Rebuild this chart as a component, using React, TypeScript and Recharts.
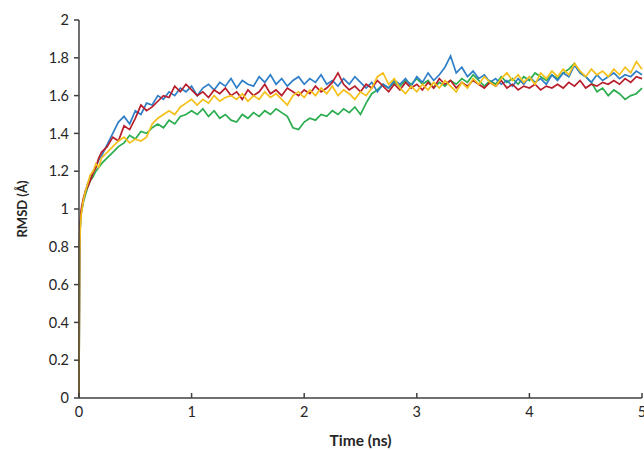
import { LineChart, Line, XAxis, YAxis, Label } from "recharts";

const time = [
  0, 0.005, 0.01, 0.02, 0.04, 0.06, 0.08, 0.1, 0.125, 0.15, 0.175, 0.2,
  0.25, 0.3, 0.35, 0.4, 0.45, 0.5, 0.55, 0.6, 0.65, 0.7, 0.75, 0.8, 0.85, 0.9, 0.95, 1.0,
  1.05, 1.1, 1.15, 1.2, 1.25, 1.3, 1.35, 1.4, 1.45, 1.5, 1.55, 1.6, 1.65, 1.7, 1.75, 1.8, 1.85, 1.9, 1.95, 2.0,
  2.05, 2.1, 2.15, 2.2, 2.25, 2.3, 2.35, 2.4, 2.45, 2.5, 2.55, 2.6, 2.65, 2.7, 2.75, 2.8, 2.85, 2.9, 2.95, 3.0,
  3.05, 3.1, 3.15, 3.2, 3.25, 3.3, 3.35, 3.4, 3.45, 3.5, 3.55, 3.6, 3.65, 3.7, 3.75, 3.8, 3.85, 3.9, 3.95, 4.0,
  4.05, 4.1, 4.15, 4.2, 4.25, 4.3, 4.35, 4.4, 4.45, 4.5, 4.55, 4.6, 4.65, 4.7, 4.75, 4.8, 4.85, 4.9, 4.95, 5.0,
];

const blue = [
  0, 0.8, 0.9, 0.98, 1.05, 1.1, 1.14, 1.16, 1.2, 1.22, 1.26, 1.28,
  1.34, 1.4, 1.46, 1.49, 1.45, 1.52, 1.5, 1.56, 1.55, 1.6, 1.58, 1.62, 1.6, 1.64, 1.62, 1.65,
  1.6, 1.64, 1.66, 1.63, 1.67, 1.65, 1.69, 1.64, 1.68, 1.66, 1.65, 1.7, 1.67, 1.71, 1.66, 1.69, 1.65, 1.68, 1.7, 1.66,
  1.69, 1.67, 1.71, 1.66, 1.68, 1.65, 1.69, 1.66, 1.7, 1.67, 1.64, 1.67, 1.62, 1.66, 1.64, 1.68, 1.66, 1.69, 1.65, 1.7,
  1.67, 1.72, 1.68, 1.71, 1.75, 1.81, 1.72, 1.75, 1.7, 1.73, 1.69, 1.71, 1.67, 1.69, 1.66, 1.68, 1.65, 1.69, 1.66, 1.7,
  1.67, 1.69, 1.66, 1.71, 1.68, 1.72, 1.7, 1.76, 1.72, 1.7, 1.67, 1.71, 1.68, 1.7, 1.72, 1.69, 1.71, 1.7, 1.73, 1.71,
];

const red = [
  0, 0.85, 0.93, 1.0, 1.06, 1.1, 1.12, 1.15, 1.19, 1.22, 1.27, 1.3,
  1.33, 1.38, 1.36, 1.44, 1.42, 1.48, 1.55, 1.52, 1.54, 1.57, 1.6, 1.59, 1.65, 1.62, 1.66, 1.63,
  1.6, 1.62, 1.59, 1.63, 1.61, 1.64, 1.6, 1.62, 1.58, 1.63, 1.6, 1.62, 1.66, 1.61, 1.63, 1.6, 1.64, 1.62, 1.6, 1.63,
  1.61, 1.65, 1.62, 1.64, 1.67, 1.72, 1.66, 1.63, 1.65, 1.62, 1.66, 1.64, 1.68, 1.65, 1.62, 1.66, 1.63, 1.67, 1.64, 1.66,
  1.63, 1.67, 1.64, 1.69, 1.66, 1.68, 1.64, 1.67, 1.65, 1.68, 1.66, 1.64, 1.67, 1.65, 1.68, 1.64, 1.66, 1.63, 1.65, 1.64,
  1.66, 1.63, 1.65, 1.64, 1.66, 1.64, 1.67, 1.65, 1.68, 1.64, 1.66, 1.65, 1.67, 1.66, 1.68, 1.66, 1.69, 1.67, 1.7, 1.69,
];

const yellow = [
  0, 0.75, 0.88, 0.97, 1.05, 1.1, 1.14, 1.18, 1.2, 1.24, 1.22, 1.27,
  1.3, 1.33, 1.36, 1.38, 1.35, 1.37, 1.36, 1.38, 1.45, 1.48, 1.5, 1.52, 1.5, 1.54, 1.56, 1.58,
  1.55, 1.58, 1.56, 1.6, 1.57, 1.59, 1.6, 1.58, 1.61, 1.57, 1.6, 1.58, 1.62, 1.59, 1.61, 1.58, 1.55, 1.6, 1.62, 1.59,
  1.63, 1.6, 1.64, 1.61, 1.65, 1.6, 1.63, 1.61, 1.58, 1.62, 1.6, 1.64, 1.7, 1.72, 1.66, 1.69, 1.64, 1.61, 1.65, 1.62,
  1.66, 1.63, 1.67, 1.64, 1.68, 1.65, 1.62, 1.67, 1.64, 1.69, 1.66, 1.7, 1.67, 1.65, 1.69, 1.72, 1.68, 1.71, 1.67, 1.7,
  1.66, 1.72, 1.69, 1.73, 1.7, 1.74, 1.71, 1.77, 1.73, 1.7, 1.74, 1.71, 1.73, 1.7, 1.74, 1.71, 1.75, 1.72, 1.78, 1.74,
];

const green = [
  0, 0.8, 0.9, 0.98, 1.04, 1.08, 1.12, 1.15, 1.17, 1.2, 1.22, 1.24,
  1.27, 1.3, 1.33, 1.35, 1.39, 1.37, 1.41, 1.4, 1.43, 1.45, 1.43, 1.47, 1.45, 1.49, 1.5, 1.52,
  1.5, 1.53, 1.49, 1.52, 1.48, 1.5, 1.47, 1.46, 1.5, 1.48, 1.51, 1.49, 1.52, 1.5, 1.53, 1.51, 1.49, 1.43, 1.42, 1.46,
  1.48, 1.47, 1.5, 1.49, 1.52, 1.5, 1.53, 1.51, 1.54, 1.5, 1.56, 1.61, 1.63, 1.66, 1.64, 1.67, 1.65, 1.68, 1.66, 1.69,
  1.66, 1.68, 1.64, 1.67, 1.65, 1.68, 1.66, 1.69, 1.67, 1.71, 1.68, 1.65, 1.68, 1.66, 1.7, 1.67, 1.69, 1.66, 1.7, 1.68,
  1.72, 1.7, 1.68, 1.71, 1.69, 1.72, 1.74, 1.77, 1.72, 1.7, 1.67, 1.62, 1.64, 1.6, 1.63, 1.61, 1.58, 1.6, 1.61, 1.64,
];

const xTicks = [0, 1, 2, 3, 4, 5];
const yTicks = [0, 0.2, 0.4, 0.6, 0.8, 1, 1.2, 1.4, 1.6, 1.8, 2];

const data = time.map((t, i) => ({
  t,
  blue: blue[i],
  red: red[i],
  yellow: yellow[i],
  green: green[i],
}));

const font = "Lato, 'Open Sans', sans-serif";
const axisColor = "#404040";
const textColor = "#262626";

function XTick(props: any) {
  const { x, y, payload } = props;
  return (
    <g>
      <line x1={x} y1={y} x2={x} y2={y - 5} stroke={axisColor} strokeWidth={1.5} />
      <text x={x} y={y + 19} textAnchor="middle" fontSize={14.5} fill={textColor} fontFamily={font}>
        {payload.value}
      </text>
    </g>
  );
}

export default function App() {
  return (
    <div style={{ position: "absolute", left: 0, top: 0, background: "#fff" }}>
      <LineChart width={644} height={450} data={data} margin={{ top: 20, right: 2, bottom: 0, left: 0 }}>
        <XAxis
          dataKey="t"
          type="number"
          domain={[0, 5]}
          ticks={xTicks}
          height={52}
          tickSize={0}
          tickMargin={0}
          tickLine={false}
          tick={<XTick />}
          stroke={axisColor}
          strokeWidth={1.5}
          interval={0}
        >
          <Label
            content={(p: any) => (
              <text
                x={p.viewBox.x + p.viewBox.width / 2}
                y={p.viewBox.y + 48}
                textAnchor="middle"
                fontSize={15.5}
                fontWeight="bold"
                fill={textColor}
                fontFamily={font}
              >
                Time (ns)
              </text>
            )}
          />
        </XAxis>
        <YAxis
          type="number"
          domain={[0, 2]}
          ticks={yTicks}
          width={79}
          tickSize={5}
          tickMargin={5}
          stroke={axisColor}
          strokeWidth={1.5}
          tick={{ fontSize: 14.5, fill: textColor, fontFamily: font }}
          interval={0}
        >
          <Label
            content={(p: any) => {
              const cx = p.viewBox.x + 22;
              const cy = p.viewBox.y + p.viewBox.height / 2;
              return (
                <text
                  x={cx}
                  y={cy}
                  transform={`rotate(-90 ${cx} ${cy})`}
                  textAnchor="middle"
                  dominantBaseline="central"
                  fontSize={13}
                  fontWeight="bold"
                  fill={textColor}
                  fontFamily={font}
                >
                  RMSD (Å)
                </text>
              );
            }}
          />
        </YAxis>
        <Line dataKey="green" stroke="#2aad4e" strokeWidth={1.7} dot={false} isAnimationActive={false} />
        <Line dataKey="blue" stroke="#2f7fc8" strokeWidth={1.7} dot={false} isAnimationActive={false} />
        <Line dataKey="red" stroke="#b81d2b" strokeWidth={1.7} dot={false} isAnimationActive={false} />
        <Line dataKey="yellow" stroke="#f5c01a" strokeWidth={1.7} dot={false} isAnimationActive={false} />
      </LineChart>
    </div>
  );
}
